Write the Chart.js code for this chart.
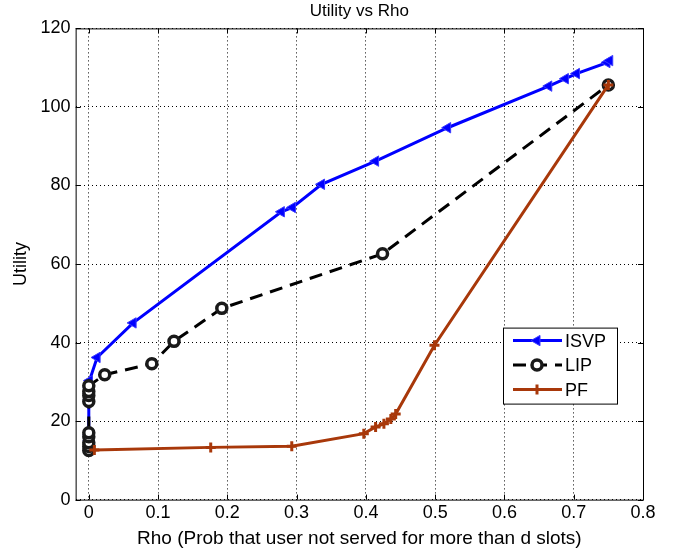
<!DOCTYPE html>
<html>
<head>
<meta charset="utf-8">
<script src="https://cdn.jsdelivr.net/npm/chart.js@4"></script>
<style>
  html, body { margin: 0; padding: 0; background: #fff; }
  #wrap { width: 678px; height: 550px; }
</style>
</head>
<body>
<div id="wrap"><canvas id="chart"></canvas></div>
<script>
const xTicks = [0, 0.1, 0.2, 0.3, 0.4, 0.5, 0.6, 0.7, 0.8];
const yTicks = [0, 20, 40, 60, 80, 100, 120];

const isvpX = [0, 0, 0, 0, 0, 0, 0, 0.001, 0.012, 0.064, 0.278, 0.294, 0.336, 0.414, 0.518, 0.664, 0.688, 0.704, 0.748, 0.752];
const isvpY = [12.5, 13.5, 15, 16.5, 25.5, 27, 28.5, 30.3, 36.2, 45, 73.3, 74.4, 80.3, 86.2, 94.7, 105.3, 107.2, 108.5, 111.3, 111.8];

const lipX = [0, 0, 0, 0, 0, 0, 0, 0, 0, 0.023, 0.091, 0.123, 0.192, 0.424, 0.75];
const lipY = [12.5, 13.5, 14.5, 16, 17, 25, 26.5, 27.5, 29, 31.8, 34.6, 40.3, 48.7, 62.6, 105.6];

const pfX = [0.008, 0.176, 0.293, 0.397, 0.414, 0.426, 0.436, 0.443, 0.499, 0.75];
const pfY = [12.6, 13.3, 13.6, 16.8, 18.5, 19.3, 20.5, 21.8, 39.3, 105.6];

const pts = (xs, ys) => xs.map((x, i) => ({ x: x, y: ys[i] }));
const font = "'Liberation Sans', Arial, sans-serif";

// box around the plot with inward ticks, like matlab
const frame = {
  id: 'frame',
  afterDatasetsDraw(chart) {
    const { ctx, chartArea: a } = chart;
    const xs = chart.scales.x, ys = chart.scales.y;
    ctx.save();
    ctx.strokeStyle = '#000';
    ctx.lineWidth = 1;
    ctx.setLineDash([]);
    ctx.strokeRect(a.left + 0.5, a.top + 0.5, a.right - a.left, a.bottom - a.top);
    ctx.beginPath();
    xTicks.forEach(v => {
      const p = Math.round(xs.getPixelForValue(v)) + 0.5;
      ctx.moveTo(p, a.bottom); ctx.lineTo(p, a.bottom - 5);
      ctx.moveTo(p, a.top); ctx.lineTo(p, a.top + 5);
    });
    yTicks.forEach(v => {
      const p = Math.round(ys.getPixelForValue(v)) + 0.5;
      ctx.moveTo(a.left, p); ctx.lineTo(a.left + 5, p);
      ctx.moveTo(a.right, p); ctx.lineTo(a.right - 5, p);
    });
    ctx.stroke();
    ctx.restore();
  }
};

// legend inside the plot, lower right
const boxLegend = {
  id: 'boxLegend',
  afterDraw(chart) {
    const { ctx, chartArea: a } = chart;
    const w = 114, h = 76;
    const left = a.right - 26 - w, top = a.bottom - 172;
    ctx.save();
    ctx.fillStyle = '#fff';
    ctx.fillRect(left, top, w, h);
    ctx.strokeStyle = '#000';
    ctx.lineWidth = 1;
    ctx.strokeRect(left + 0.5, top + 0.5, w, h);
    chart.data.datasets.forEach((ds, i) => {
      const y = top + 13 + i * 24.5;
      ctx.strokeStyle = ds.borderColor;
      ctx.lineWidth = ds.borderWidth;
      ctx.setLineDash(ds.borderDash || []);
      ctx.beginPath();
      ctx.moveTo(left + 10, y);
      ctx.lineTo(left + 59, y);
      ctx.stroke();
      ctx.setLineDash([]);
      ctx.fillStyle = ds.pointBackgroundColor;
      ctx.strokeStyle = ds.pointBorderColor;
      ctx.lineWidth = ds.pointBorderWidth;
      Chart.helpers.drawPoint(ctx, {
        pointStyle: ds.pointStyle,
        rotation: ds.pointRotation || 0,
        radius: ds.pointRadius,
        borderWidth: ds.pointBorderWidth
      }, left + 34, y);
      ctx.fillStyle = '#000';
      ctx.font = '18px ' + font;
      ctx.textBaseline = 'middle';
      ctx.fillText(ds.label, left + 62, y + 1);
    });
    ctx.restore();
  }
};

Chart.defaults.font.family = font;
Chart.defaults.color = '#000';

new Chart(document.getElementById('chart'), {
  type: 'scatter',
  data: {
    datasets: [{
      label: 'ISVP',
      data: pts(isvpX, isvpY),
      showLine: true,
      borderColor: '#0000ff',
      borderWidth: 3,
      pointStyle: 'triangle',
      pointRotation: -90,
      pointRadius: 6,
      pointBorderWidth: 1,
      pointBackgroundColor: '#0000ff',
      pointBorderColor: '#3a3aff',
      order: 3
    }, {
      label: 'LIP',
      data: pts(lipX, lipY),
      showLine: true,
      borderColor: '#000',
      borderWidth: 3,
      borderDash: [13, 8],
      pointStyle: 'circle',
      pointRadius: 5,
      pointBorderWidth: 3.5,
      pointBackgroundColor: '#fff',
      pointBorderColor: '#1a1a1a',
      order: 2
    }, {
      label: 'PF',
      data: pts(pfX, pfY),
      showLine: true,
      borderColor: '#a8380a',
      borderWidth: 3,
      pointStyle: 'cross',
      pointRadius: 5,
      pointBorderWidth: 3,
      pointBackgroundColor: '#a8380a',
      pointBorderColor: '#a8380a',
      order: 1
    }]
  },
  options: {
    responsive: true,
    maintainAspectRatio: false,
    animation: false,
    layout: { padding: { left: 10, right: 35, top: 0, bottom: 0 } },
    plugins: {
      legend: { display: false },
      tooltip: { enabled: false },
      title: {
        display: true,
        fullSize: false,
        text: 'Utility vs Rho',
        font: { size: 17, weight: 'normal' },
        padding: { top: 1, bottom: 7 }
      }
    },
    scales: {
      x: {
        type: 'linear',
        min: -0.019,
        max: 0.8,
        afterBuildTicks: s => { s.ticks = xTicks.map(v => ({ value: v })); },
        ticks: { font: { size: 18 }, padding: 3, callback: v => String(v) },
        grid: { color: '#000', lineWidth: 1, drawTicks: false },
        border: { display: false, dash: [1, 3] },
        title: { display: true, text: 'Rho (Prob that user not served for more than d slots)', font: { size: 19 }, padding: { top: 0, bottom: 0 } }
      },
      y: {
        min: 0,
        max: 120,
        afterBuildTicks: s => { s.ticks = yTicks.map(v => ({ value: v })); },
        ticks: { font: { size: 18 }, padding: 5 },
        grid: { color: '#000', lineWidth: 1, drawTicks: false },
        border: { display: false, dash: [1, 3] },
        title: { display: true, text: 'Utility', font: { size: 18 }, padding: { top: 0, bottom: 4 } }
      }
    }
  },
  plugins: [frame, boxLegend]
});
</script>
</body>
</html>
